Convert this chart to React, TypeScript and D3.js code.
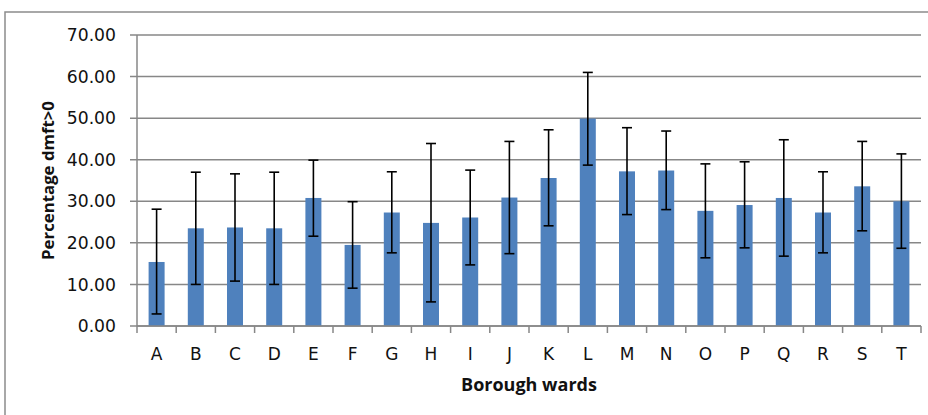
import React from "react";
import * as d3 from "d3";

const wards = ["A","B","C","D","E","F","G","H","I","J","K","L","M","N","O","P","Q","R","S","T"];
const percentages = [15.4,23.5,23.7,23.5,30.8,19.5,27.3,24.8,26.1,30.9,35.6,49.9,37.2,37.4,27.7,29.1,30.8,27.3,33.6,30.0];
const errLower = [2.9,10.0,10.8,10.0,21.6,9.1,17.6,5.8,14.7,17.4,24.1,38.7,26.8,28.0,16.4,18.8,16.8,17.6,22.9,18.7];
const errUpper = [28.1,37.0,36.6,37.0,39.9,29.9,37.1,43.9,37.5,44.4,47.2,61.0,47.7,46.9,39.0,39.5,44.8,37.1,44.4,41.4];
const yTicks = [0,10,20,30,40,50,60,70];

const W = 928, H = 415;
const left = 137, right = 921, top = 35, bottom = 326;

export default function App() {
  const x = d3.scaleBand<string>().domain(wards).range([left, right]).paddingInner(0).paddingOuter(0);
  const y = d3.scaleLinear().domain([0, 70]).range([bottom, top]);
  const barW = 16;
  const capW = 10;
  const font = "'Open Sans', sans-serif";
  const tickFont = "'DejaVu Sans', sans-serif";
  const grid = "#878787";
  return (
    <svg width={W} height={H} style={{ position: "absolute", left: 0, top: 0 }}>
      <rect x={0} y={0} width={W} height={H} fill="#fff" />
      <rect x={5} y={12} width={W + 10} height={H + 10} fill="none" stroke="#8c8c8c" strokeWidth={1.5} />
      {yTicks.map((t) => (
        <g key={t}>
          <line x1={left - 7} x2={right} y1={y(t)} y2={y(t)} stroke={grid} strokeWidth={1.5} />
          <text x={116} y={y(t)} dy="0.36em" textAnchor="end" fontFamily={tickFont} fontSize={17.2} fill="#111">
            {t.toFixed(2)}
          </text>
        </g>
      ))}
      <line x1={left} x2={left} y1={top} y2={bottom} stroke={grid} strokeWidth={1.5} />
      {wards.map((w, i) => (
        <g key={w}>
          <rect x={x(w)! + x.bandwidth() / 2 - barW / 2} y={y(percentages[i])} width={barW} height={bottom - y(percentages[i])} fill="#4F81BD" />
        </g>
      ))}
      {wards.map((w) => (
        <line key={"tk" + w} x1={x(w)!} x2={x(w)!} y1={bottom} y2={bottom + 7} stroke={grid} strokeWidth={1.5} />
      ))}
      <line x1={right} x2={right} y1={bottom} y2={bottom + 7} stroke={grid} strokeWidth={1.5} />
      <line x1={left} x2={right} y1={bottom} y2={bottom} stroke={grid} strokeWidth={1.5} />
      {wards.map((w, i) => {
        const cx = x(w)! + x.bandwidth() / 2;
        return (
          <g key={"e" + w} stroke="#000" strokeWidth={1.6}>
            <line x1={cx} x2={cx} y1={y(errUpper[i])} y2={y(errLower[i])} />
            <line x1={cx - capW / 2} x2={cx + capW / 2} y1={y(errUpper[i])} y2={y(errUpper[i])} />
            <line x1={cx - capW / 2} x2={cx + capW / 2} y1={y(errLower[i])} y2={y(errLower[i])} />
          </g>
        );
      })}
      {wards.map((w) => (
        <text key={"l" + w} x={x(w)! + x.bandwidth() / 2} y={360} textAnchor="middle" fontFamily={tickFont} fontSize={17} fill="#111">
          {w}
        </text>
      ))}
      <text x={(left + right) / 2} y={390.5} textAnchor="middle" fontFamily={font} fontSize={18} fontWeight="bold" fill="#111">
        Borough wards
      </text>
      <text transform={`translate(53.5, ${(top + bottom) / 2}) rotate(-90)`} textAnchor="middle" fontFamily={font} fontSize={16.8} fontWeight="bold" fill="#111">
        Percentage dmft&gt;0
      </text>
    </svg>
  );
}
